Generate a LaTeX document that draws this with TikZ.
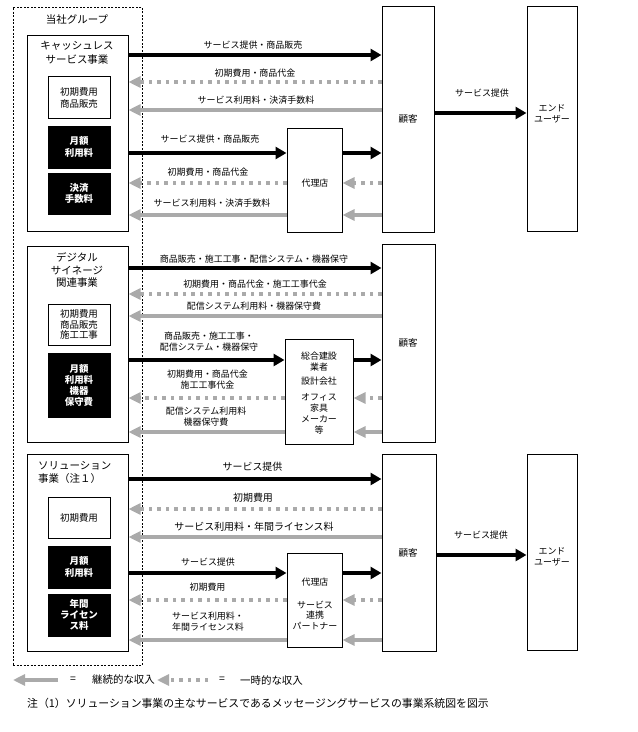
\documentclass[tikz,border=0pt]{standalone}
\usepackage{fontspec}
\setmainfont{Noto Sans CJK JP}
\usetikzlibrary{arrows.meta,fit}
\definecolor{revgrey}{RGB}{170,170,170}
\tikzset{
  box/.style={draw=black, line width=1bp, inner sep=0pt, fill=white},
  grpbox/.style={draw=black, line width=0.8bp, dash pattern=on 2bp off 1.5bp, inner sep=0pt},
  wbox/.style={draw=black, line width=1bp, inner sep=0pt, fill=white},
  wtxt/.style={inner sep=0pt, align=center, font=\fontsize{9.5}{11.5}\selectfont},
  bbox/.style={draw=black, fill=black, inner sep=0pt},
  btxt/.style={inner sep=0pt, text=white, align=center, font=\fontsize{9.5}{11.5}\selectfont\bfseries},
  ttl/.style={inner sep=0pt, align=center, font=\fontsize{10.5}{14}\selectfont},
  lbl/.style={inner sep=0pt, align=center, font=\fontsize{9}{11}\selectfont},
  lblb/.style={inner sep=0pt, align=center, font=\fontsize{10}{12}\selectfont},
  flowB/.style={line width=4bp, draw=black, -{Triangle[length=11bp,width=12bp]}},
  flowG/.style={line width=4bp, draw=revgrey, -{Triangle[length=12bp,width=11bp]}},
  flowD/.style={line width=3.5bp, draw=revgrey, dash pattern=on 3.5bp off 5bp, -{Triangle[length=12bp,width=11bp]}},
}
\begin{document}
\begin{tikzpicture}[x=1bp,y=-1bp]
\useasboundingbox (0,0) rectangle (638,732);

% ---------- group box ----------
\node[grpbox, fit={(13,7) (142,665)}] (grp) {};
\node[ttl] (grptitle) at (77,20) {当社グループ};

% ---------- section 1 ----------
\node[box, fit={(27,36) (128,231)}] (cash) {};
\node[ttl] (cashtitle) at (77,52.5) {キャッシュレス\\サービス事業};
\node[wbox, fit={(48,77) (110,119)}] (cw) {};
\node[wtxt] (cwt) at (cw) {初期費用\\商品販売};
\node[bbox, fit={(48,126) (110,168)}] (cb1) {};
\node[btxt] (cb1t) at (cb1) {月額\\利用料};
\node[bbox, fit={(48,173) (110,214)}] (cb2) {};
\node[btxt] (cb2t) at (cb2) {決済\\手数料};

\node[box, fit={(382,7) (434,232)}] (cust1) {};
\node[lbl, font=\fontsize{9.5}{12}\selectfont] (cust1t) at (408,119) {顧客};
\node[box, fit={(527,7) (577,231)}] (end1) {};
\node[lbl] (end1t) at (552,114) {エンド\\ユーザー};
\node[box, fit={(287,129) (342,232)}] (ag1) {};
\node[lbl] (ag1t) at (315,183) {代理店};

\draw[flowB] (cash.east |- 0,55) -- (cust1.west |- 0,55);
\node[lbl] (l11) at (253,45.5) {サービス提供・商品販売};
\draw[flowD] (cust1.west |- 0,82) -- (cash.east |- 0,82);
\node[lbl] (l12) at (255,73) {初期費用・商品代金};
\draw[flowG] (cust1.west |- 0,110) -- (cash.east |- 0,110);
\node[lbl] (l13) at (256,100) {サービス利用料・決済手数料};

\draw[flowB] (cash.east |- 0,153) -- (ag1.west |- 0,153);
\node[lbl] (l14) at (210,139) {サービス提供・商品販売};
\draw[flowD] (ag1.west |- 0,183) -- (cash.east |- 0,183);
\node[lbl] (l15) at (208,172.5) {初期費用・商品代金};
\draw[flowG] (ag1.west |- 0,215) -- (cash.east |- 0,215);
\node[lbl] (l16) at (212,203) {サービス利用料・決済手数料};

\draw[flowB] (ag1.east |- 0,153) -- (cust1.west |- 0,153);
\draw[flowD] (cust1.west |- 0,183) -- (ag1.east |- 0,183);
\draw[flowG] (cust1.west |- 0,215) -- (ag1.east |- 0,215);

\draw[flowB] (cust1.east |- 0,113) -- (end1.west |- 0,113);
\node[lbl] (l17) at (482,93) {サービス提供};

% ---------- section 2 ----------
\node[box, fit={(27,246) (128,442)}] (dig) {};
\node[ttl, font=\fontsize{10.5}{13}\selectfont] (digtitle) at (77,270) {デジタル\\サイネージ\\関連事業};
\node[wbox, fit={(48,304) (110,345)}] (dw) {};
\node[wtxt, font=\fontsize{9.5}{10.8}\selectfont] (dwt) at (dw) {初期費用\\商品販売\\施工工事};
\node[bbox, fit={(48,353) (110,417)}] (db) {};
\node[btxt, font=\fontsize{9.5}{11}\selectfont\bfseries] (dbt) at (db) {月額\\利用料\\機器\\保守費};

\node[box, fit={(382,244) (435,442)}] (cust2) {};
\node[lbl, font=\fontsize{9.5}{12}\selectfont] (cust2t) at (408,343) {顧客};
\node[box, fit={(285,339) (353,444)}] (gc) {};
\node[lbl, font=\fontsize{9}{11}\selectfont] (gct) at (319,393) {総合建設\\業者\\[4bp]設計会社\\[5bp]オフィス\\家具\\メーカー\\等};

\draw[flowB] (dig.east |- 0,268) -- (cust2.west |- 0,268);
\node[lbl] (l21) at (254,259) {商品販売・施工工事・配信システム・機器保守};
\draw[flowD] (cust2.west |- 0,294) -- (dig.east |- 0,294);
\node[lbl] (l22) at (255,284) {初期費用・商品代金・施工工事代金};
\draw[flowG] (cust2.west |- 0,316) -- (dig.east |- 0,316);
\node[lbl] (l23) at (254,306.5) {配信システム利用料・機器保守費};

\draw[flowB] (dig.east |- 0,360) -- (gc.west |- 0,360);
\node[lbl] (l24) at (209,342) {商品販売・施工工事・\\配信システム・機器保守};
\draw[flowD] (gc.west |- 0,398) -- (dig.east |- 0,398);
\node[lbl] (l25) at (207.5,380) {初期費用・商品代金\\施工工事代金};
\draw[flowG] (gc.west |- 0,432) -- (dig.east |- 0,432);
\node[lbl] (l26) at (206,416.5) {配信システム利用料\\機器保守費};

\draw[flowB] (gc.east |- 0,360) -- (cust2.west |- 0,360);
\draw[flowD] (cust2.west |- 0,398) -- (gc.east |- 0,398);
\draw[flowG] (cust2.west |- 0,432) -- (gc.east |- 0,432);

% ---------- section 3 ----------
\node[box, fit={(27,454) (128,651)}] (sol) {};
\node[ttl, align=left, anchor=west, font=\fontsize{10.5}{13.5}\selectfont] (soltitle) at (38,472.5) {ソリューション\\事業（注１）};
\node[wbox, fit={(48,497) (110,538)}] (sw) {};
\node[wtxt] (swt) at (sw) {初期費用};
\node[bbox, fit={(48,546) (110,588)}] (sb1) {};
\node[btxt] (sb1t) at (sb1) {月額\\利用料};
\node[bbox, fit={(48,594) (110,636)}] (sb2) {};
\node[btxt, font=\fontsize{9.5}{11}\selectfont\bfseries] (sb2t) at (sb2) {年間\\ライセン\\ス料};

\node[box, fit={(382,454) (436,651)}] (cust3) {};
\node[lbl, font=\fontsize{9.5}{12}\selectfont] (cust3t) at (408,553) {顧客};
\node[box, fit={(527,454) (577,650)}] (end3) {};
\node[lbl] (end3t) at (552,557) {エンド\\ユーザー};
\node[box, fit={(287,553) (342,647)}] (ag3) {};
\node[lbl, font=\fontsize{9}{10.5}\selectfont] (ag3t) at (315,604) {代理店\\[12bp]サービス\\連携\\パートナー};

\draw[flowB] (sol.east |- 0,479) -- (cust3.west |- 0,479);
\node[lblb] (l31) at (252.5,467) {サービス提供};
\draw[flowD] (cust3.west |- 0,509) -- (sol.east |- 0,509);
\node[lblb] (l32) at (253,498) {初期費用};
\draw[flowG] (cust3.west |- 0,537) -- (sol.east |- 0,537);
\node[lblb] (l33) at (254,527) {サービス利用料・年間ライセンス料};

\draw[flowB] (sol.east |- 0,573) -- (ag3.west |- 0,573);
\node[lbl] (l34) at (208,562) {サービス提供};
\draw[flowD] (ag3.west |- 0,600) -- (sol.east |- 0,600);
\node[lbl] (l35) at (207.5,587) {初期費用};
\draw[flowG] (ag3.west |- 0,640) -- (sol.east |- 0,640);
\node[lbl] (l36) at (208,622) {サービス利用料・\\年間ライセンス料};

\draw[flowB] (ag3.east |- 0,573) -- (cust3.west |- 0,573);
\draw[flowD] (cust3.west |- 0,600) -- (ag3.east |- 0,600);
\draw[flowG] (cust3.west |- 0,640) -- (ag3.east |- 0,640);

\draw[flowB] (cust3.east |- 0,555) -- (end3.west |- 0,555);
\node[lbl] (l37) at (481,535) {サービス提供};

% ---------- legend ----------
\coordinate (lgA1) at (58,680);
\coordinate (lgA2) at (13,680);
\coordinate (lgB1) at (208,680);
\coordinate (lgB2) at (157,680);
\draw[flowG] (lgA1) -- (lgA2);
\node[ttl] (lgAeq) at (73,680) {=};
\node[ttl] (lgAt) at (123.5,680) {継続的な収入};
\draw[flowD] (lgB1) -- (lgB2);
\node[ttl] (lgBeq) at (222,680) {=};
\node[ttl] (lgBt) at (271.5,680) {一時的な収入};

\node[ttl, anchor=west, font=\fontsize{10.9}{13}\selectfont] (note) at (27,703) {注（1）ソリューション事業の主なサービスであるメッセージングサービスの事業系統図を図示};
\end{tikzpicture}
\end{document}
